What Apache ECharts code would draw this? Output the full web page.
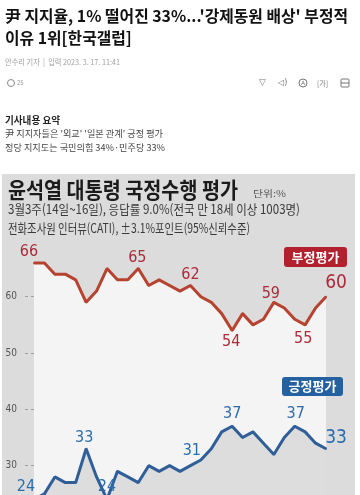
<!DOCTYPE html>
<html><head><meta charset="utf-8">
<script src="https://cdn.jsdelivr.net/npm/echarts@6/dist/echarts.min.js"></script>
<style>html,body{margin:0;padding:0;overflow:hidden;background:#fff}#c{width:360px;height:530px}</style>
</head><body><div id="c"></div>
<script>
// ---- data ----
const weeks = ['8월1주','8월2주','8월3주','8월4주','9월1주','9월3주','9월4주','9월5주','10월2주','10월3주','10월4주','11월1주','11월2주','11월3주','11월4주','12월1주','12월2주','12월3주','12월4주','1월1주','1월2주','1월3주','2월1주','2월2주','2월3주','2월4주','3월1주','3월2주','3월3주'];
const disapprove = [66,66,64,64,63,59,61,65,63,63,65,62,63,62,61,62,60,59,57,54,57,55,56,59,58,56,55,58,60];
const approve    = [24,25,28,27,27,33,28,24,29,28,27,30,29,30,29,30,31,33,36,37,35,36,34,32,35,37,36,34,33];
const yTicks = [30,40,50,60];
const redLabelIdx  = [0,10,15,19,23,26,28];
const blueLabelIdx = [0,5,7,16,19,25,28];

// ---- label placement (style) ----
const redLabelOff  = [[-5,-11],[-1,-11],[0,-11],[-1,11.5],[-3,-9],[-2,14],[10,-13.5]];
const blueLabelOff = [[-8,-13],[-2,-11],[0,-13],[-9,-9.5],[0,-12],[1,-12],[10,-11]];

const KR = "'Noto Sans CJK KR', sans-serif";
const NUM = "'Liberation Sans Narrow','Arial Narrow','DejaVu Sans Condensed','Liberation Sans',sans-serif";
const RED_LINE = '#b5432f', RED_TXT = '#ad2a3a', BLUE_LINE = '#2f5e98', BLUE_TXT = '#2c6cad';

const ctx = document.createElement('canvas').getContext('2d');
function fitScale(text, size, weight, family, width){
  ctx.font = weight + ' ' + size + 'px ' + family;
  return width / ctx.measureText(text).width;
}
function txt(text, left, cy, size, color, weight, width, family, scale){
  family = family || KR;
  const s = scale || (width ? fitScale(text, size, weight, family, width) : 1);
  return {type:'text', x:left, y:cy, scaleX:s, z:10,
    style:{text:text, x:0, y:0, fontSize:size, fontWeight:weight, fontFamily:family, fill:color,
      align:'left', verticalAlign:'middle', textAlign:'left', textVerticalAlign:'middle'}};
}

function buildData(vals, idxs, offs, color, endIdx){
  return vals.map((v,i)=>{
    const k = idxs.indexOf(i);
    if (k < 0) return v;
    const big = i === endIdx;
    return {value:v, label:{show:true, position:'inside', offset:offs[k], formatter:'{c}',
      color:color, fontFamily:NUM, fontSize: big ? 19 : 16, fontWeight:'normal',
      align:'center', verticalAlign:'middle'}};
  });
}

const h1Scale = fitScale("尹 지지율, 1% 떨어진 33%...'강제동원 배상' 부정적", 16, 'bold', KR, 343);

const graphics = [
  // page header
  txt("尹 지지율, 1% 떨어진 33%...'강제동원 배상' 부정적", 5, 16, 16, '#111', 'bold', null, KR, h1Scale),
  txt("이유 1위[한국갤럽]", 5, 38, 16, '#111', 'bold', null, KR, h1Scale),
  txt("안수리 기자  |  입력 2023. 3. 17. 11:41", 5, 62, 8, '#a0a0a0', 'normal', 115),
  {type:'circle', shape:{cx:11, cy:83, r:3.5}, style:{fill:'none', stroke:'#888', lineWidth:1}},
  txt("25", 17, 83, 6, '#999', 'normal'),
  txt("▽", 259, 83, 9, '#777', 'normal', null, "'DejaVu Sans',sans-serif"),
  txt("◁)", 278, 83, 8, '#777', 'normal', null, "'DejaVu Sans',sans-serif"),
  {type:'circle', shape:{cx:303, cy:83, r:4}, style:{fill:'none', stroke:'#777', lineWidth:1}},
  txt("A", 301, 83, 6, '#777', 'normal', null, "'DejaVu Sans',sans-serif"),
  txt("[가]", 317, 83, 7, '#777', 'normal'),
  {type:'rect', shape:{x:341, y:79, width:8, height:8, r:1}, style:{fill:'none', stroke:'#777', lineWidth:1}},
  {type:'line', shape:{x1:341, y1:83, x2:349, y2:83}, style:{stroke:'#777', lineWidth:1}},
  // summary
  txt("기사내용 요약", 5, 120, 10, '#222', 'bold', 55),
  txt("尹 지지자들은 '외교' '일본 관계' 긍정 평가", 5, 134, 9, '#444', 'normal', 158),
  txt("정당 지지도는 국민의힘 34%·민주당 33%", 5, 148, 9, '#444', 'normal', 160),
  // chart box
  {type:'rect', z:-10, shape:{x:2, y:174, width:353, height:360}, style:{fill:'#dcdcdc'}},
  txt("윤석열 대통령 국정수행 평가", 8, 190, 22, '#1b1b1b', 'bold', 230),
  txt("단위:%", 253, 194, 9, '#555', 'normal', 33),
  txt("3월3주(14일~16일), 응답률 9.0%(전국 만 18세 이상 1003명)", 8, 209, 13, '#3a3a3a', 'normal', 292),
  txt("전화조사원 인터뷰(CATI), ±3.1%포인트(95%신뢰수준)", 8, 228.5, 13, '#3a3a3a', 'normal', 242),
  // legend badges
  {type:'rect', z:10, shape:{x:284, y:247, width:63, height:20, r:3}, style:{fill:'#b3202e'}},
  {type:'text', z:11, x:315.5, y:257, style:{text:'부정평가', fontSize:13, fontWeight:'bold', fontFamily:KR, fill:'#fff', align:'center', verticalAlign:'middle', textAlign:'center', textVerticalAlign:'middle'}},
  {type:'rect', z:10, shape:{x:282, y:377, width:61, height:19, r:3}, style:{fill:'#2361a0'}},
  {type:'text', z:11, x:312.5, y:386.5, style:{text:'긍정평가', fontSize:13, fontWeight:'bold', fontFamily:KR, fill:'#fff', align:'center', verticalAlign:'middle', textAlign:'center', textVerticalAlign:'middle'}}
];

const chart = echarts.init(document.getElementById('c'), null, {renderer:'canvas'});
chart.setOption({
  animation:false,
  backgroundColor:'#ffffff',
  graphic:{elements:graphics},
  grid:{left:34, right:34, top:240.4, bottom:8, containLabel:false},
  xAxis:{type:'category', data:weeks, boundaryGap:false, show:false},
  yAxis:{type:'value', min:20, max:70, interval:10,
    axisLine:{show:false},
    axisTick:{show:true, length:12, customValues:yTicks, lineStyle:{color:'#a0a0a0', type:[3,3], width:1}},
    axisLabel:{margin:17, customValues:yTicks, color:'#555', fontFamily:NUM, fontSize:10,
      formatter:(v)=> yTicks.indexOf(v) >= 0 ? String(v) : ''},
    splitLine:{show:true, showMinLine:false, showMaxLine:false, lineStyle:{color:'#a0a0a0', type:[3,3], width:1}}
  },
  series:[
    {name:'부정평가', type:'line', data:buildData(disapprove, redLabelIdx, redLabelOff, RED_TXT, 28),
      symbol:'circle', symbolSize:2, showAllSymbol:true, z:3,
      lineStyle:{color:RED_LINE, width:3}, itemStyle:{color:RED_LINE},
      areaStyle:{color:'#f4f4f4', opacity:1, origin:'start'}},
    {name:'긍정평가', type:'line', data:buildData(approve, blueLabelIdx, blueLabelOff, BLUE_TXT, 28),
      symbol:'circle', symbolSize:2, showAllSymbol:true, z:4,
      lineStyle:{color:BLUE_LINE, width:3}, itemStyle:{color:BLUE_LINE},
      areaStyle:{color:'#dddddd', opacity:1, origin:'start'}}
  ]
});
</script></body></html>
